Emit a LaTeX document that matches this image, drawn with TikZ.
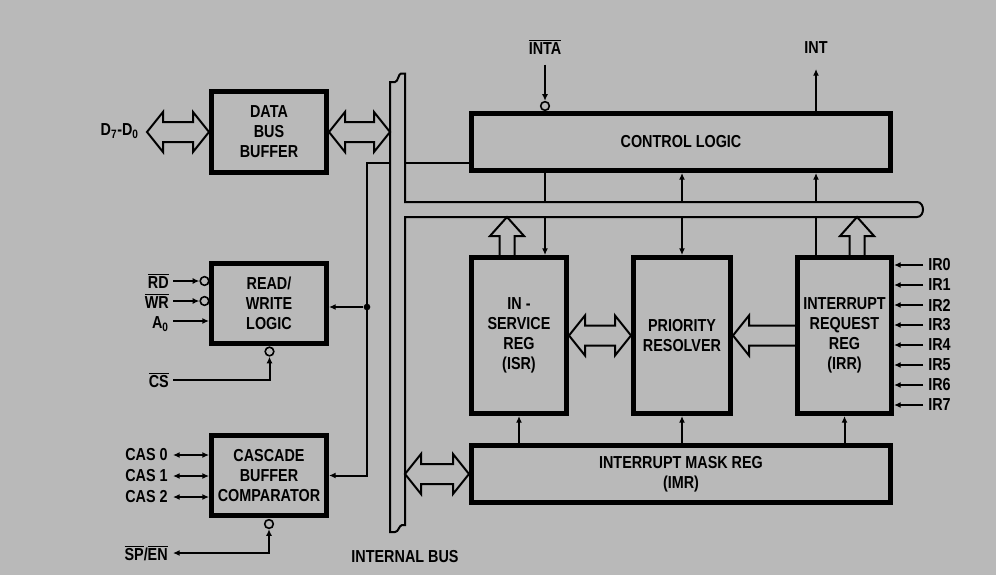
\documentclass[tikz,border=0pt]{standalone}
\usepackage{fontspec}
\setmainfont{Liberation Sans}[FakeStretch=0.83]
\usetikzlibrary{arrows.meta,calc}

\definecolor{bgGray}{RGB}{185,185,185}
\newcommand{\lbfont}{\fontsize{13}{15}\selectfont\bfseries}
\newcommand{\ovl}[1]{$\overline{\mbox{#1}}$}

\tikzset{
  blk/.style={draw,line width=3.75pt,inner sep=0pt,align=center,font=\lbfont},
  boxsz/.style 2 args={minimum width=#1*0.75pt,minimum height=#2*0.75pt},
  lbl/.style={inner sep=0pt,font=\lbfont},
  sig/.style={line width=1.5pt},
  sigarr/.style={-{Latex[length=5pt,width=4.5pt]}},
  sigdbl/.style={{Latex[length=5pt,width=4.5pt]}-{Latex[length=5pt,width=4.5pt]}},
  bub/.style={circle,draw,line width=1.2pt,minimum size=6.5pt,inner sep=0pt},
  jdot/.style={circle,fill,minimum size=5pt,inner sep=0pt},
  busarr/.style={line width=1.5pt,line join=miter},
}

% hollow bus arrows: tips / tails given as coordinates
\newcommand{\dblarrow}[2]{%
  \draw[busarr] #1 -- ($#1+(16,-20)$) -- ($#1+(16,-10)$) -- ($#2+(-16,-10)$) -- ($#2+(-16,-20)$) -- #2
    -- ($#2+(-16,20)$) -- ($#2+(-16,10)$) -- ($#1+(16,10)$) -- ($#1+(16,20)$) -- cycle;}
\newcommand{\lfarrow}[2]{%
  \draw[busarr] ($#2+(0,-10)$) -- ($#1+(16,-10)$) -- ($#1+(16,-20)$) -- #1
    -- ($#1+(16,20)$) -- ($#1+(16,10)$) -- ($#2+(0,10)$);}
\newcommand{\busup}[2]{%
  \draw[busarr] ($#2+(-7.5,0)$) -- ($#1+(-7.5,19)$) -- ($#1+(-17,19)$) -- #1
    -- ($#1+(17,19)$) -- ($#1+(7.5,19)$) -- ($#2+(7.5,0)$);}

\begin{document}
\begin{tikzpicture}[x=0.75pt,y=0.75pt,yscale=-1,xscale=1]
\fill[bgGray] (0,0) rectangle (996,575);
\useasboundingbox (0,0) rectangle (996,575);

%Shape: internal bus
\draw[sig,line join=miter] (390,532) -- (390,82) -- (395,82) .. controls (398,82) and (398.5,73.5) .. (401,73.5) -- (405,73.5)
  -- (405,202) -- (917,202) .. controls (921,202) and (923,206) .. (923,209.5) .. controls (923,213) and (921,217) .. (917,217)
  -- (405,217) -- (405,525) -- (402,525) .. controls (399,525.5) and (398.5,532) .. (395,532) -- cycle;
\coordinate (busL) at (390,0);
\coordinate (busR) at (405,0);
\coordinate (busT) at (0,202);
\coordinate (busB) at (0,217);

%Blocks
\node[blk,boxsz={115}{81}] (dbb) at (269,132) {DATA\\BUS\\BUFFER};
\node[blk,boxsz={115}{80}] (rw) at (269,303.5) {READ/\\WRITE\\LOGIC};
\node[blk,boxsz={115}{80}] (cbc) at (269,475.5) {CASCADE\\BUFFER\\COMPARATOR};
\node[blk,boxsz={419}{57}] (ctrl) at (681,142) {CONTROL LOGIC};
\node[blk,boxsz={95}{156}] (isr) at (519,335.5) {IN -\\SERVICE\\REG\\(ISR)};
\node[blk,boxsz={97}{156}] (pr) at (682,335.5) {PRIORITY\\RESOLVER};
\node[blk,boxsz={94}{156}] (irr) at (844.5,335.5) {INTERRUPT\\REQUEST\\REG\\(IRR)};
\node[blk,boxsz={419}{57}] (imr) at (681,474) {INTERRUPT MASK REG\\(IMR)};

%Data bus
\node[lbl,anchor=east] (d70) at (139,131) {D\textsubscript{7}-D\textsubscript{0}};
\coordinate (dtip) at (147,132);
\dblarrow{(dtip)}{(dbb.west)}
\coordinate (dbR) at (busL |- dbb.west);
\dblarrow{(dbb.east)}{(dbR)}

%Read/write inputs
\node[lbl,anchor=east] (rd) at (169,281) {\ovl{RD}};
\node[lbl,anchor=east] (wr) at (169,301) {\ovl{WR}};
\node[lbl,anchor=east] (a0) at (169,324) {A\textsubscript{0}};
\node[lbl,anchor=east] (cs) at (169,380) {\ovl{CS}};
\node[bub] (rdb) at (204.5,281) {};
\node[bub] (wrb) at (204.5,301) {};
\node[bub] (csb) at (269.5,351.5) {};
\draw[sig,sigarr] (rd.east) ++(4,0) -- (rdb);
\draw[sig,sigarr] (wr.east) ++(4,0) -- (wrb);
\draw[sig,sigarr] (a0.east) ++(4,-3) coordinate (a0s) -- (rw.west |- a0s);
\draw[sig,sigarr] (cs.east) ++(4,0) -| (csb);

%Cascade lines
\foreach \n/\y in {0/455,1/476,2/497}{
  \node[lbl,anchor=east] (cas\n) at (168,\y) {CAS \n};
  \draw[sig,sigdbl] (cas\n.east) ++(5,0) -- (cbc.west |- cas\n.east);
}
\node[lbl,anchor=east] (spen) at (168,553) {\ovl{SP}/\ovl{EN}};
\node[bub] (cbcb) at (269,524) {};
\draw[sig,sigdbl] (spen.east) ++(5,0) -| (cbcb);

%Internal wiring
\coordinate (tap) at (367,163);
\draw[sig] (ctrl.west |- tap) -- (busR |- tap);
\draw[sig,sigarr] (busL |- tap) -- (tap) |- (cbc);
\node[jdot] (jn) at (367,307) {};
\draw[sig,sigarr] (jn) -- (rw.east |- jn);

%INTA / INT
\node[lbl] (inta) at (545,47) {\ovl{INTA}};
\node[bub] (intab) at (545,106) {};
\draw[sig,sigarr] (inta.south) ++(0,10) -- (intab);
\node[lbl] (int) at (816,48) {INT};
\draw[sig,sigarr] (ctrl.north -| int) -- ++(0,-42);

%Bus taps
\draw[sig] (ctrl.south -| inta) -- (busT -| inta);
\draw[sig,sigarr] (busB -| inta) -- (isr.north -| inta);
\draw[sig,sigarr] (busT -| pr) -- (ctrl.south -| pr);
\draw[sig,sigarr] (busB -| pr) -- (pr.north);
\draw[sig,sigarr] (busT -| int) -- (ctrl.south -| int);
\draw[sig] (busB -| int) -- (irr.north -| int);
\coordinate (isrT) at ([xshift=-9pt]isr.north);
\coordinate (isrU) at (busB -| isrT);
\busup{(isrU)}{(isrT)}
\coordinate (irrT) at ([xshift=9.4pt]irr.north);
\coordinate (irrU) at (busB -| irrT);
\busup{(irrU)}{(irrT)}

%Between registers
\dblarrow{(isr.east)}{(pr.west)}
\lfarrow{(pr.east)}{(irr.west)}
\foreach \b in {isr,pr,irr}
  \draw[sig,sigarr] (imr.north -| \b) -- (\b.south);
\coordinate (imL) at (busR |- imr.west);
\dblarrow{(imL)}{(imr.west)}

%Interrupt requests
\foreach \i in {0,...,7}{
  \node[lbl,anchor=west] (ir\i) at (928,{265+20*\i}) {IR\i};
  \draw[sig,sigarr] (ir\i.west) ++(-5,0) -- (irr.east |- ir\i.west);
}

\node[lbl] (ibus) at (405,557) {INTERNAL BUS};
\end{tikzpicture}
\end{document}
